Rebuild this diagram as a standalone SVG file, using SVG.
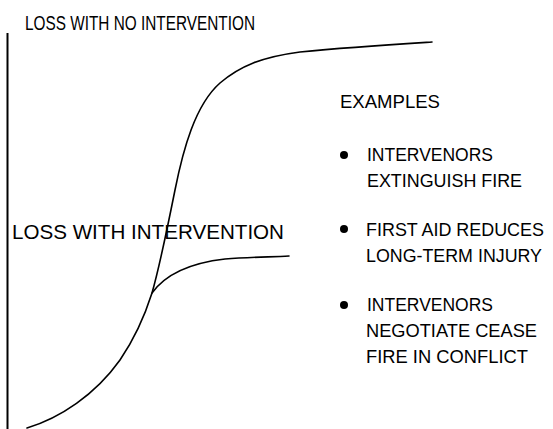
<svg xmlns="http://www.w3.org/2000/svg" width="553" height="429" viewBox="0 0 553 429">
<style>
.t{font-family:"Liberation Sans",Arial,sans-serif;fill:#000;}
.big{font-size:21px;}
.sm{font-size:19px;}
.nr{font-size:16px;}
.ln{fill:none;stroke:#000;stroke-width:1.6;stroke-linecap:round;stroke-linejoin:round;}
</style>
<rect width="553" height="429" fill="#fff"/>
<g id="axis">
<line x1="7.5" y1="33" x2="7.5" y2="429" stroke="#000" stroke-width="2"/>
</g>
<g id="curves">
<path class="ln" d="M27,428 C60,418 95,395 120,360 C135,338 145,315 152,293 C160,265 168,225 175,190 C183,150 195,105 220,83 C240,66 262,57 300,52 C350,47 400,44 432,42"/>
<path class="ln" d="M152,293 C165,275 190,263 225,259 C250,257 270,257 289,256"/>
</g>
<g id="labels">
<text class="t big" x="25" y="30" textLength="230" lengthAdjust="spacingAndGlyphs">LOSS WITH NO INTERVENTION</text>
<text class="t big" x="12" y="239" textLength="272" lengthAdjust="spacingAndGlyphs">LOSS WITH INTERVENTION</text>
</g>
<g id="examples">
<text class="t sm" x="340" y="108" textLength="100" lengthAdjust="spacingAndGlyphs">EXAMPLES</text>
<circle cx="344" cy="155" r="4"/>
<text class="t sm" x="367" y="161" textLength="126" lengthAdjust="spacingAndGlyphs">INTERVENORS</text>
<text class="t sm" x="367" y="187" textLength="155" lengthAdjust="spacingAndGlyphs">EXTINGUISH FIRE</text>
<circle cx="344" cy="229" r="4"/>
<text class="t nr" transform="translate(366,236) scale(1,1.18)" x="0" y="0" textLength="178" lengthAdjust="spacingAndGlyphs">FIRST AID REDUCES</text>
<text class="t nr" transform="translate(366,262) scale(1,1.18)" x="0" y="0" textLength="176" lengthAdjust="spacingAndGlyphs">LONG-TERM INJURY</text>
<circle cx="344" cy="305" r="4"/>
<text class="t sm" x="367" y="311" textLength="126" lengthAdjust="spacingAndGlyphs">INTERVENORS</text>
<text class="t sm" x="366" y="337" textLength="171" lengthAdjust="spacingAndGlyphs">NEGOTIATE CEASE</text>
<text class="t sm" x="366" y="363" textLength="162" lengthAdjust="spacingAndGlyphs">FIRE IN CONFLICT</text>
</g>
</svg>
